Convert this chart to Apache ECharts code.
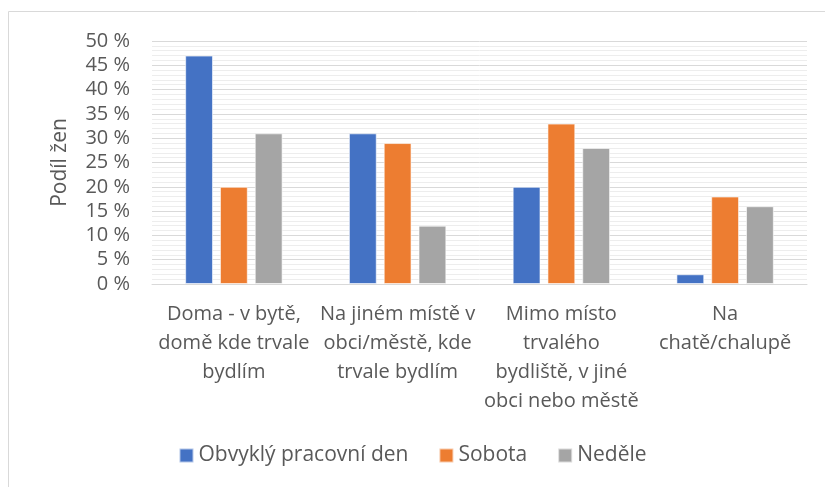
<!DOCTYPE html>
<html>
<head>
<meta charset="utf-8">
<script src="https://cdn.jsdelivr.net/npm/echarts@6/dist/echarts.min.js"></script>
<style>
  html, body { margin: 0; padding: 0; background: #fff; }
  #chart { width: 825px; height: 487px; }
</style>
</head>
<body>
<div id="chart"></div>
<script>
const categories = [
  'Doma - v bytě,\ndomě kde trvale\nbydlím',
  'Na jiném místě v\nobci/městě, kde\ntrvale bydlím',
  'Mimo místo\ntrvalého\nbydliště, v jiné\nobci nebo městě',
  'Na\nchatě/chalupě',
];
const workday = [47, 31, 20, 2];
const saturday = [20, 29, 33, 18];
const sunday = [31, 12, 28, 16];
const yTicks = [0, 5, 10, 15, 20, 25, 30, 35, 40, 45, 50];

const FONT = 'Open Sans';
const TEXT = '#595959';

const chart = echarts.init(document.getElementById('chart'), null, { renderer: 'canvas' });

const barSeries = (name, data, color) => ({
  name,
  type: 'bar',
  data,
  barWidth: '17%',
  barGap: '25%',
  itemStyle: { color, borderColor: 'rgba(255,255,255,0.6)', borderWidth: 1 },
});

chart.setOption({
  animation: false,
  textStyle: { fontFamily: FONT },
  graphic: [{
    type: 'rect',
    shape: { x: 8.5, y: 11.5, width: 840, height: 500 },
    style: { fill: 'none', stroke: '#d9d9d9', lineWidth: 1 },
    silent: true,
  }],
  grid: { left: 152, right: 18, top: 41, bottom: 203 },
  legend: {
    bottom: 16,
    left: 'center',
    itemWidth: 14,
    itemHeight: 14,
    itemGap: 30,
    icon: 'rect',
    textStyle: { fontSize: 21, color: TEXT, fontFamily: FONT },
  },
  xAxis: {
    type: 'category',
    data: categories,
    axisLine: { lineStyle: { color: '#d9d9d9', width: 1 } },
    axisTick: { show: false },
    axisLabel: {
      color: TEXT, fontSize: 20, lineHeight: 29, margin: 16, interval: 0, fontFamily: FONT,
    },
  },
  yAxis: {
    type: 'value',
    min: yTicks[0],
    max: yTicks[yTicks.length - 1],
    interval: 5,
    name: 'Podíl žen',
    nameLocation: 'middle',
    nameGap: 81,
    nameTextStyle: { color: TEXT, fontSize: 21, fontFamily: FONT },
    axisLine: { show: false },
    axisTick: { show: false },
    axisLabel: {
      color: TEXT, fontSize: 20, margin: 22, fontFamily: FONT,
      formatter: v => v + ' %',
    },
    splitLine: { lineStyle: { color: '#d9d9d9', width: 1 } },
    minorTick: { show: false, splitNumber: 5 },
    minorSplitLine: { show: true, lineStyle: { color: '#ededed', width: 1 } },
  },
  series: [
    barSeries('Obvyklý pracovní den', workday, '#4472c4'),
    barSeries('Sobota', saturday, '#ed7d31'),
    barSeries('Neděle', sunday, '#a5a5a5'),
  ],
});

window.addEventListener('resize', chart.resize);
</script>
</body>
</html>
